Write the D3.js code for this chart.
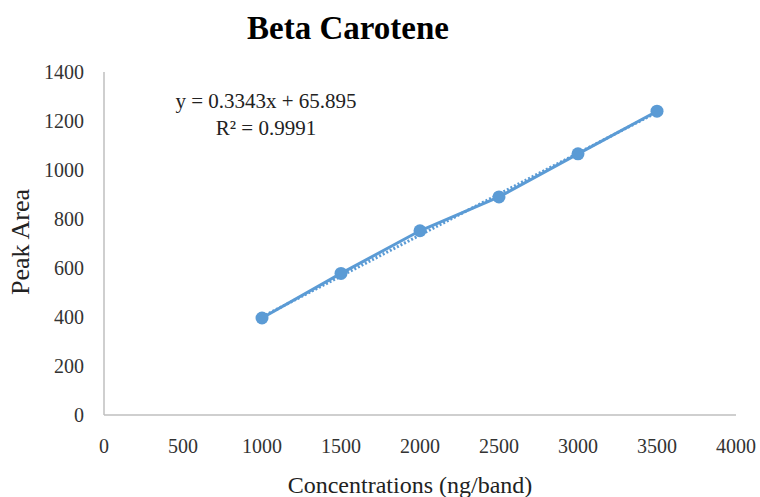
<!DOCTYPE html>
<html>
<head>
<meta charset="utf-8">
<script src="https://cdn.jsdelivr.net/npm/d3@7"></script>
<style>
  body { margin: 0; background: #fff; }
  text { font-family: "Liberation Serif", "Times New Roman", serif; }
</style>
</head>
<body>
<div id="canvas"></div>
<script>
"use strict";

/* Data */
let concentrations = [1000, 1500, 2000, 2500, 3000, 3500];
let peakAreas = [396, 578, 752, 890, 1066, 1240];
let xTicks = [0, 500, 1000, 1500, 2000, 2500, 3000, 3500, 4000];
let yTicks = [0, 200, 400, 600, 800, 1000, 1200, 1400];
let slope = 0.3343;
let intercept = 65.895;

/* Drawing config */
let svgWidth = 760;
let svgHeight = 497;
let plotLeft = 104;
let plotRight = 736;
let plotTop = 72;
let plotBottom = 415;
let blue = "#5b9bd5";
let axisColor = "#bfbfbf";
let textColor = "#333";

let svg = d3.select("#canvas")
  .append("svg")
  .attr("width", svgWidth)
  .attr("height", svgHeight);

let xScale = d3.scaleLinear().domain([0, 4000]).range([plotLeft, plotRight]);
let yScale = d3.scaleLinear().domain([0, 1400]).range([plotBottom, plotTop]);

/* Title */
svg.append("text")
  .attr("x", 348)
  .attr("y", 39)
  .attr("text-anchor", "middle")
  .attr("font-size", "33px")
  .attr("font-weight", "bold")
  .attr("fill", "#000")
  .text("Beta Carotene");

/* Axis lines */
svg.append("line")
  .attr("x1", plotLeft).attr("y1", plotBottom)
  .attr("x2", plotRight).attr("y2", plotBottom)
  .attr("stroke", axisColor).attr("stroke-width", 1.5);

svg.append("line")
  .attr("x1", plotLeft).attr("y1", plotBottom)
  .attr("x2", plotLeft).attr("y2", plotTop)
  .attr("stroke", axisColor).attr("stroke-width", 1.5);

/* Tick labels */
svg.selectAll(".x-tick")
  .data(xTicks)
  .enter()
  .append("text")
  .attr("class", "x-tick")
  .attr("x", d => xScale(d))
  .attr("y", 453)
  .attr("text-anchor", "middle")
  .attr("font-size", "20px")
  .attr("fill", textColor)
  .text(d => d);

svg.selectAll(".y-tick")
  .data(yTicks)
  .enter()
  .append("text")
  .attr("class", "y-tick")
  .attr("x", 84)
  .attr("y", d => yScale(d))
  .attr("dy", "0.35em")
  .attr("text-anchor", "end")
  .attr("font-size", "20px")
  .attr("fill", textColor)
  .text(d => d);

/* Axis titles */
svg.append("text")
  .attr("x", 410)
  .attr("y", 493)
  .attr("text-anchor", "middle")
  .attr("font-size", "24px")
  .attr("fill", "#222")
  .text("Concentrations (ng/band)");

svg.append("text")
  .attr("transform", "translate(29," + 242 + ") rotate(-90)")
  .attr("text-anchor", "middle")
  .attr("font-size", "26px")
  .attr("fill", "#222")
  .text("Peak Area");

/* Linear trendline (dotted) */
let xFirst = concentrations[0];
let xLast = concentrations[concentrations.length - 1];
svg.append("line")
  .attr("x1", xScale(xFirst))
  .attr("y1", yScale(slope * xFirst + intercept))
  .attr("x2", xScale(xLast))
  .attr("y2", yScale(slope * xLast + intercept))
  .attr("stroke", blue)
  .attr("stroke-width", 3)
  .attr("stroke-dasharray", "2,2");

/* Series line + markers */
let points = concentrations.map((c, i) => ({ x: c, y: peakAreas[i] }));

let line = d3.line()
  .x(d => xScale(d.x))
  .y(d => yScale(d.y));

svg.append("path")
  .datum(points)
  .attr("d", line)
  .attr("fill", "none")
  .attr("stroke", blue)
  .attr("stroke-width", 3);

svg.selectAll(".pt")
  .data(points)
  .enter()
  .append("circle")
  .attr("class", "pt")
  .attr("cx", d => xScale(d.x))
  .attr("cy", d => yScale(d.y))
  .attr("r", 6.5)
  .attr("fill", blue);

/* Equation label */
svg.append("text")
  .attr("x", 266)
  .attr("y", 108)
  .attr("text-anchor", "middle")
  .attr("font-size", "21px")
  .attr("fill", "#222")
  .text("y = 0.3343x + 65.895");

svg.append("text")
  .attr("x", 266)
  .attr("y", 135)
  .attr("text-anchor", "middle")
  .attr("font-size", "21px")
  .attr("fill", "#222")
  .text("R² = 0.9991");
</script>
</body>
</html>
